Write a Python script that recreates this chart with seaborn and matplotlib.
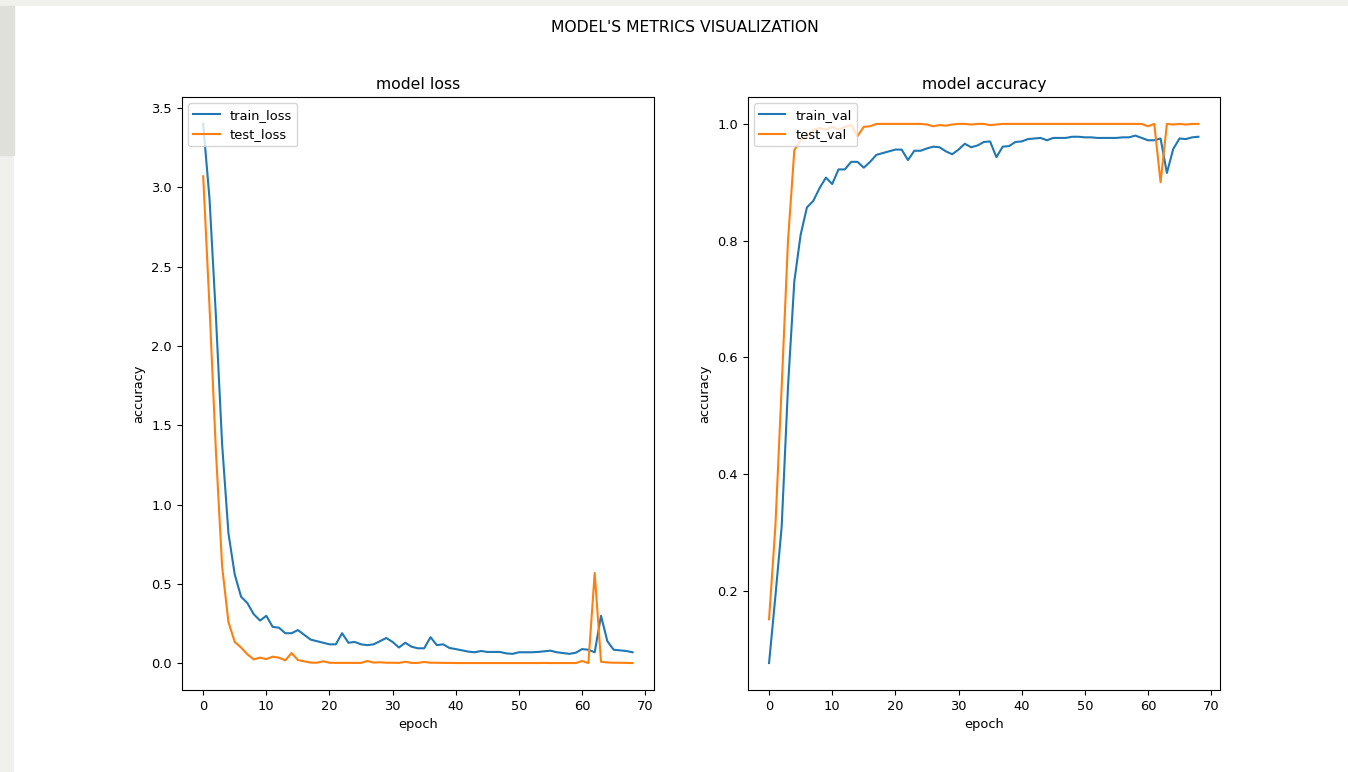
import matplotlib.pyplot as plt
import numpy as np
import seaborn as sns
from matplotlib.patches import Rectangle

# values, one per epoch (0..68)
train_loss = [3.40, 2.93, 2.20, 1.38, 0.82, 0.56, 0.42, 0.38, 0.31, 0.27,
              0.30, 0.23, 0.225, 0.19, 0.19, 0.21, 0.18, 0.15, 0.14, 0.13,
              0.12, 0.12, 0.19, 0.13, 0.135, 0.12, 0.115, 0.12, 0.14, 0.16,
              0.135, 0.10, 0.13, 0.105, 0.095, 0.095, 0.165, 0.115, 0.12, 0.097,
              0.09, 0.082, 0.074, 0.07, 0.078, 0.072, 0.072, 0.072, 0.063, 0.06,
              0.07, 0.07, 0.07, 0.072, 0.076, 0.08, 0.07, 0.065, 0.06, 0.067,
              0.09, 0.086, 0.07, 0.30, 0.14, 0.086, 0.082, 0.078, 0.07]
test_loss = [3.07, 2.25, 1.35, 0.61, 0.26, 0.135, 0.10, 0.057, 0.025, 0.036,
             0.027, 0.042, 0.036, 0.019, 0.065, 0.021, 0.013, 0.005, 0.004, 0.013,
             0.004, 0.003, 0.003, 0.003, 0.003, 0.003, 0.015, 0.005, 0.007, 0.004,
             0.004, 0.003, 0.010, 0.003, 0.003, 0.009, 0.004, 0.004, 0.003, 0.003,
             0.002, 0.002, 0.002, 0.002, 0.002, 0.002, 0.002, 0.002, 0.002, 0.002,
             0.002, 0.002, 0.002, 0.002, 0.003, 0.002, 0.002, 0.002, 0.002, 0.002,
             0.015, 0.002, 0.57, 0.010, 0.006, 0.004, 0.004, 0.003, 0.002]
train_val = [0.076, 0.19, 0.31, 0.55, 0.73, 0.81, 0.857, 0.868, 0.89, 0.908,
             0.897, 0.922, 0.922, 0.935, 0.935, 0.925, 0.935, 0.947, 0.95, 0.953,
             0.956, 0.956, 0.938, 0.954, 0.954, 0.958, 0.961, 0.96, 0.953, 0.948,
             0.956, 0.966, 0.96, 0.963, 0.969, 0.97, 0.943, 0.961, 0.962, 0.969,
             0.97, 0.974, 0.975, 0.976, 0.972, 0.976, 0.976, 0.976, 0.978, 0.978,
             0.977, 0.977, 0.976, 0.976, 0.976, 0.976, 0.977, 0.977, 0.98, 0.976,
             0.972, 0.972, 0.975, 0.916, 0.957, 0.975, 0.974, 0.977, 0.978]
test_val = [0.151, 0.31, 0.55, 0.80, 0.955, 0.972, 0.98, 0.99, 0.993, 0.99,
            0.995, 0.99, 0.995, 0.998, 0.979, 0.995, 0.996, 1.0, 1.0, 1.0,
            1.0, 1.0, 1.0, 1.0, 1.0, 0.999, 0.996, 0.998, 0.997, 0.999,
            1.0, 1.0, 0.999, 1.0, 1.0, 0.998, 0.999, 1.0, 1.0, 1.0,
            1.0, 1.0, 1.0, 1.0, 1.0, 1.0, 1.0, 1.0, 1.0, 1.0,
            1.0, 1.0, 1.0, 1.0, 1.0, 1.0, 1.0, 1.0, 1.0, 1.0,
            0.996, 1.0, 0.90, 1.0, 0.999, 1.0, 0.999, 1.0, 1.0]
epochs = np.arange(len(train_loss))

plt.rcParams['font.size'] = 9.4

fig, axes = plt.subplots(1, 2, figsize=(13.48, 7.72), dpi=100)
plt.subplots_adjust(left=0.1348, right=0.905, top=0.8744, bottom=0.1062, wspace=0.198)

# screenshot border
fig.add_artist(Rectangle((0, 0), 1, 1, transform=fig.transFigure, color='#f0f0ec', zorder=-10))
fig.add_artist(Rectangle((14 / 1348, 0), 1, 1 - 6 / 772, transform=fig.transFigure, color='white', zorder=-9))
fig.add_artist(Rectangle((0, 1 - 155 / 772), 14 / 1348, 149 / 772, transform=fig.transFigure, color='#e0e0da', zorder=-9))

ax = axes[0]
sns.lineplot(x=epochs, y=train_loss, label='train_loss', color='#1f77b4', ax=ax)
sns.lineplot(x=epochs, y=test_loss, label='test_loss', color='#ff7f0e', ax=ax)
ax.set_title('model loss')
ax.set_xlabel('epoch')
ax.set_ylabel('accuracy')
ax.legend(loc='upper left')

ax = axes[1]
sns.lineplot(x=epochs, y=train_val, label='train_val', color='#1f77b4', ax=ax)
sns.lineplot(x=epochs, y=test_val, label='test_val', color='#ff7f0e', ax=ax)
ax.set_title('model accuracy')
ax.set_xlabel('epoch')
ax.set_ylabel('accuracy')
ax.legend(loc='upper left')

for ax in axes:
    ax.set_xticks(range(0, 71, 10))

fig.suptitle("MODEL'S METRICS VISUALIZATION", x=685 / 1348, y=1 - 20 / 772)
fig.patch.set_alpha(0)
plt.savefig('out.png', dpi=100, facecolor=fig.get_facecolor())
